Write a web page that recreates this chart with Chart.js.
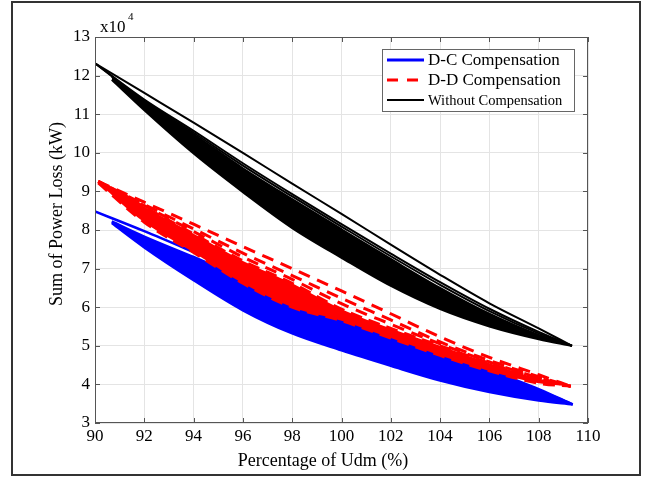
<!DOCTYPE html>
<html>
<head>
<meta charset="utf-8">
<script src="https://cdn.jsdelivr.net/npm/chart.js@4.4.1/dist/chart.umd.min.js"></script>
<style>
  html, body { margin: 0; padding: 0; background: #fff; }
</style>
</head>
<body>
<canvas id="c" width="649" height="479"></canvas>
<script>
// values in units of x10^4 kW
const blueX = [90, 92, 94, 96, 98, 100, 102, 104, 106, 108, 109.38];
const blueBandX = [90.68, 92, 94, 96, 98, 100, 102, 104, 106, 108, 109.38];
const blueTop = [8.48, 7.97, 7.43, 6.88, 6.32, 5.82, 5.32, 4.82, 4.37, 3.88, 3.48];
const blueBandTop = [8.22, 7.83, 7.30, 6.76, 6.24, 5.75, 5.26, 4.77, 4.32, 3.85, 3.48];
const blueBandBottom = [8.18, 7.55, 6.70, 5.92, 5.32, 4.88, 4.48, 4.10, 3.80, 3.58, 3.48];

const redX = [90.13, 92, 94, 96, 98, 100, 102, 104, 106, 108, 109.3];
const redDash1 = [9.26, 8.72, 8.15, 7.57, 7.00, 6.42, 5.83, 5.23, 4.70, 4.25, 3.95];
const redDash2 = [9.26, 8.66, 8.03, 7.40, 6.82, 6.23, 5.67, 5.10, 4.62, 4.20, 3.95];
const redDash3 = [9.26, 8.63, 7.96, 7.30, 6.72, 6.09, 5.56, 5.05, 4.58, 4.17, 3.95];
const redBandTop = [9.26, 8.60, 7.90, 7.20, 6.62, 5.95, 5.45, 5.00, 4.55, 4.15, 3.95];
const redBandBottom = [9.22, 8.20, 7.42, 6.62, 6.00, 5.65, 5.20, 4.75, 4.35, 4.03, 3.95];

const blackX = [90, 92, 94, 96, 98, 100, 102, 104, 106, 108, 109.35];
const blackBandX = [90.68, 92, 94, 96, 98, 100, 102, 104, 106, 108, 109.35];
const blackLine1 = [12.32, 11.55, 10.78, 10.00, 9.20, 8.42, 7.62, 6.84, 6.10, 5.45, 5.00];
const blackLine2 = [12.32, 11.38, 10.57, 9.73, 8.93, 8.15, 7.39, 6.65, 5.96, 5.36, 5.00];
const blackLine3 = [12.32, 11.35, 10.52, 9.67, 8.87, 8.09, 7.32, 6.58, 5.90, 5.32, 5.00];
const blackBandTop = [11.97, 11.32, 10.48, 9.60, 8.80, 8.02, 7.25, 6.50, 5.83, 5.28, 5.00];
const blackBandBottom = [11.89, 11.10, 9.98, 8.98, 8.05, 7.28, 6.55, 5.95, 5.50, 5.17, 5.00];

const legendLabels = ["D-C Compensation", "D-D Compensation", "Without Compensation"];
const xTitle = "Percentage of Udm (%)";
const yTitle = "Sum of Power Loss (kW)";

const BLUE = "#0000ff";
const RED = "#ff0000";
const BLACK = "#000000";
const SERIF = "'Liberation Serif', 'Times New Roman', serif";

const pts = (xs, ys) => xs.map((x, i) => ({ x, y: ys[i] }));

function line(data, color, width, order, extra) {
  return Object.assign({
    data,
    borderColor: color,
    backgroundColor: color,
    borderWidth: width,
    pointRadius: 0,
    cubicInterpolationMode: "monotone",
    fill: false,
    order,
  }, extra || {});
}

const datasets = [
  line(pts(blueX, blueTop), BLUE, 2.5, 3),
  line(pts(blueBandX, blueBandTop), BLUE, 2.5, 3),
  line(pts(blueBandX, blueBandBottom), BLUE, 2.5, 3, { fill: { target: 1, above: BLUE, below: BLUE } }),

  line(pts(redX, redBandTop), RED, 3, 2, { borderDash: [12, 7] }),
  line(pts(redX, redBandBottom), RED, 3, 2, { borderDash: [12, 7], fill: { target: 3, above: RED, below: RED } }),
  line(pts(redX, redDash1), RED, 3, 2, { borderDash: [12, 8] }),
  line(pts(redX, redDash2), RED, 3, 2, { borderDash: [12, 8], borderDashOffset: 6 }),
  line(pts(redX, redDash3), RED, 3, 2, { borderDash: [12, 8], borderDashOffset: 12 }),

  line(pts(blackBandX, blackBandTop), BLACK, 2, 1),
  line(pts(blackBandX, blackBandBottom), BLACK, 2, 1, { fill: { target: 8, above: BLACK, below: BLACK } }),
  line(pts(blackX, blackLine1), BLACK, 2, 1),
  line(pts(blackX, blackLine2), BLACK, 2, 1),
  line(pts(blackX, blackLine3), BLACK, 2, 1),
];

const decor = {
  id: "decor",
  afterDraw(chart) {
    const { ctx, chartArea: a, scales: { x, y } } = chart;
    ctx.save();

    // axes box + inward ticks (MATLAB style)
    ctx.strokeStyle = "#555";
    ctx.lineWidth = 1;
    ctx.strokeRect(a.left + 0.5, a.top + 0.5, a.right - a.left - 1, a.bottom - a.top - 1);
    ctx.beginPath();
    x.ticks.forEach((t) => {
      const p = Math.round(x.getPixelForValue(t.value)) + 0.5;
      ctx.moveTo(p, a.bottom); ctx.lineTo(p, a.bottom - 5);
      ctx.moveTo(p, a.top); ctx.lineTo(p, a.top + 5);
    });
    y.ticks.forEach((t) => {
      const p = Math.round(y.getPixelForValue(t.value)) + 0.5;
      ctx.moveTo(a.left, p); ctx.lineTo(a.left + 5, p);
      ctx.moveTo(a.right, p); ctx.lineTo(a.right - 5, p);
    });
    ctx.stroke();

    // exponent
    ctx.fillStyle = "#000";
    ctx.textBaseline = "alphabetic";
    ctx.textAlign = "left";
    ctx.font = "17px " + SERIF;
    ctx.fillText("x10", 100, 32);
    ctx.font = "11px " + SERIF;
    ctx.fillText("4", 128, 20);

    // axis titles
    ctx.font = "18px " + SERIF;
    ctx.textAlign = "center";
    ctx.textBaseline = "middle";
    ctx.fillText(xTitle, 323, 461);
    ctx.save();
    ctx.translate(57, 214);
    ctx.rotate(-Math.PI / 2);
    ctx.fillText(yTitle, 0, 0);
    ctx.restore();

    // legend
    const lx = 382, ly = 49, lw = 192, lh = 62;
    ctx.fillStyle = "#fff";
    ctx.fillRect(lx, ly, lw, lh);
    ctx.strokeStyle = "#666";
    ctx.strokeRect(lx + 0.5, ly + 0.5, lw, lh);
    const rows = [
      { color: BLUE, dash: [], width: 3, font: "17px " + SERIF, yy: 60 },
      { color: RED, dash: [11, 9], width: 3, font: "17px " + SERIF, yy: 80 },
      { color: BLACK, dash: [], width: 2, font: "14.5px " + SERIF, yy: 100 },
    ];
    rows.forEach((r, i) => {
      ctx.beginPath();
      ctx.setLineDash(r.dash);
      ctx.strokeStyle = r.color;
      ctx.lineWidth = r.width;
      ctx.moveTo(387, r.yy); ctx.lineTo(424, r.yy);
      ctx.stroke();
      ctx.setLineDash([]);
      ctx.fillStyle = "#000";
      ctx.font = r.font;
      ctx.textAlign = "left";
      ctx.textBaseline = "middle";
      ctx.fillText(legendLabels[i], 428, r.yy + 1);
    });

    // outer frame
    ctx.strokeStyle = "#333";
    ctx.lineWidth = 2;
    ctx.strokeRect(12, 2, 628, 473);
    ctx.restore();
  },
};

new Chart(document.getElementById("c"), {
  type: "line",
  data: { datasets },
  plugins: [decor],
  options: {
    responsive: false,
    animation: false,
    layout: { padding: { left: 0, top: 37, right: 61, bottom: 0 } },
    plugins: { legend: { display: false }, tooltip: { enabled: false } },
    scales: {
      x: {
        type: "linear",
        min: 90,
        max: 110,
        afterFit: (s) => { s.height = 56; },
        ticks: { stepSize: 2, color: "#000", padding: 3, font: { family: SERIF, size: 17 } },
        grid: { color: "#e4e4e4", drawTicks: false },
        border: { display: false },
      },
      y: {
        type: "linear",
        min: 3,
        max: 13,
        afterFit: (s) => { s.width = 95; },
        ticks: { stepSize: 1, color: "#000", padding: 5, font: { family: SERIF, size: 17 } },
        grid: { color: "#e4e4e4", drawTicks: false },
        border: { display: false },
      },
    },
  },
});
</script>
</body>
</html>
